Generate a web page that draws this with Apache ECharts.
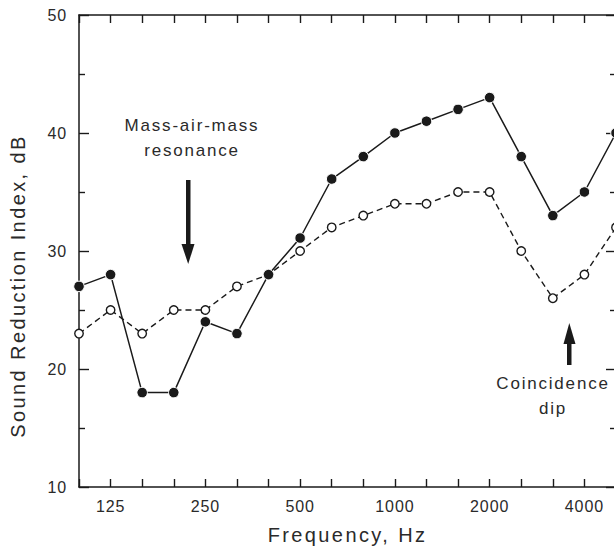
<!DOCTYPE html>
<html>
<head>
<meta charset="utf-8">
<script src="https://cdn.jsdelivr.net/npm/echarts@6/dist/echarts.min.js"></script>
<style>
  html, body { margin: 0; padding: 0; background: #fff; }
  #chart { width: 614px; height: 552px; }
  #chart text[style*="16px"] { letter-spacing: 0.9px; }
  #chart text[style*="17px"] { letter-spacing: 1.8px; }
  #chart text[style*="20px"] { letter-spacing: 2.4px; }
</style>
</head>
<body>
<div id="chart"></div>
<script>
// 1/3-octave band centre frequencies (Hz)
const frequencies = ['100','125','160','200','250','315','400','500','630','800','1000','1250','1600','2000','2500','3150','4000','5000'];
// Labelled frequencies on the x axis
const labelledFreqs = ['125','250','500','1000','2000','4000'];
// Sound reduction index, dB – filled circles (solid line)
const sriSolid = [27, 28, 18, 18, 24, 23, 28, 31.1, 36.1, 38, 40, 41, 42, 43, 38, 33, 35, 40];
// Sound reduction index, dB – open circles (dashed line)
const sriOpen  = [23, 25, 23, 25, 25, 27, 28, 30, 32, 33, 34, 34, 35, 35, 30, 26, 28, 32];
// y-axis range
const yMin = 10, yMax = 50;

const FONT = '"Liberation Sans", Arial, Helvetica, sans-serif';
const INK = '#1a1a1a';
const TXT = '#2a2a2a';

const chart = echarts.init(document.getElementById('chart'), null, { renderer: 'svg' });

const isLabelled = (idx) => labelledFreqs.indexOf(frequencies[idx]) >= 0;

function xAxisDef(position, withLabels) {
  return {
    type: 'category',
    data: frequencies,
    position: position,
    boundaryGap: false,
    axisLine: { show: true, lineStyle: { color: INK, width: 1.5 } },
    axisTick: {
      show: true, inside: true, length: 8, interval: 0,
      lineStyle: { color: INK, width: 1.4 }
    },
    axisLabel: withLabels ? {
      show: true, interval: (idx) => isLabelled(idx), margin: 11,
      fontFamily: FONT, fontSize: 16, color: TXT
    } : { show: false },
    splitLine: { show: false },
    name: withLabels ? 'Frequency, Hz' : '',
    nameLocation: 'middle',
    nameGap: 38,
    nameTextStyle: { fontFamily: FONT, fontSize: 20, color: TXT }
  };
}

function yAxisDef(position, withLabels) {
  return {
    type: 'value',
    position: position,
    min: yMin, max: yMax, interval: 10,
    axisLine: { show: withLabels, lineStyle: { color: INK, width: 1.5 } },
    axisTick: { show: true, inside: true, length: 10, lineStyle: { color: INK, width: 1.4 } },
    minorTick: { show: true, splitNumber: 2, length: 6, lineStyle: { color: INK, width: 1.4 } },
    axisLabel: withLabels ? { show: true, margin: 12, fontFamily: FONT, fontSize: 16, color: TXT } : { show: false },
    splitLine: { show: false },
    minorSplitLine: { show: false }
  };
}

const option = {
  animation: false,
  backgroundColor: '#fff',
  grid: { left: 79, top: 15, width: 537, height: 472, containLabel: false, outerBoundsMode: 'none' },
  xAxis: [
    xAxisDef('bottom', true),
    xAxisDef('top', false)
  ],
  yAxis: [
    yAxisDef('left', true),
    yAxisDef('right', false)
  ],
  series: [
    {
      type: 'line',
      data: sriOpen,
      xAxisIndex: 0, yAxisIndex: 0,
      symbol: 'circle', symbolSize: 8.5,
      itemStyle: { color: '#fff', borderColor: INK, borderWidth: 1.4 },
      lineStyle: { color: INK, width: 1.4, type: [6, 4] },
      clip: false,
      z: 2
    },
    {
      type: 'line',
      data: sriSolid,
      xAxisIndex: 0, yAxisIndex: 0,
      symbol: 'circle', symbolSize: 10.5,
      itemStyle: { color: INK, borderColor: '#fff', borderWidth: 1 },
      lineStyle: { color: INK, width: 1.5 },
      clip: false,
      z: 3
    }
  ],
  graphic: [
    {
      type: 'text', x: 18, y: 286, rotation: Math.PI / 2,
      style: {
        text: 'Sound Reduction Index, dB', fill: TXT,
        font: '20px ' + FONT, textAlign: 'center', textVerticalAlign: 'middle'
      }
    },
    {
      type: 'text', x: 192, y: 113,
      style: {
        text: 'Mass-air-mass\nresonance', fill: TXT,
        font: '17px ' + FONT, textAlign: 'center', textVerticalAlign: 'top', lineHeight: 25
      }
    },
    { type: 'rect', shape: { x: 186, y: 180, width: 4.5, height: 68 }, style: { fill: INK } },
    { type: 'polygon', shape: { points: [[181.5, 244], [194.5, 244], [188.2, 264]] }, style: { fill: INK } },
    {
      type: 'text', x: 553, y: 371,
      style: {
        text: 'Coincidence\ndip', fill: TXT,
        font: '17px ' + FONT, textAlign: 'center', textVerticalAlign: 'top', lineHeight: 25
      }
    },
    { type: 'rect', shape: { x: 567, y: 340, width: 4.5, height: 25 }, style: { fill: INK } },
    { type: 'polygon', shape: { points: [[563.5, 344], [575.5, 344], [569.3, 323]] }, style: { fill: INK } }
  ]
};

chart.setOption(option);
</script>
</body>
</html>
